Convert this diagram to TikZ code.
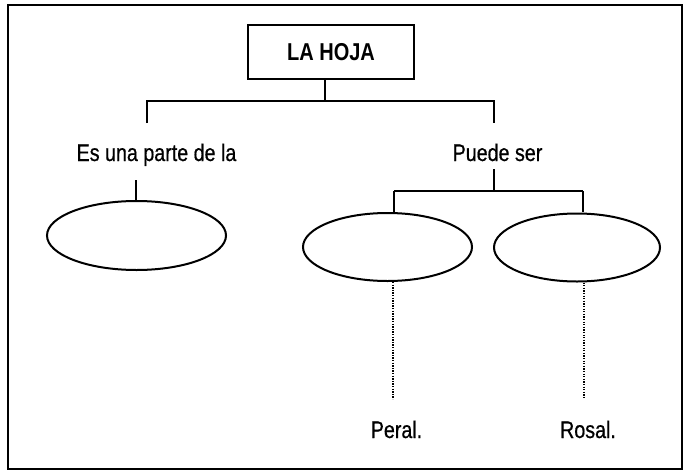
\documentclass[tikz,border=0pt]{standalone}
\usepackage{fontspec}
\setmainfont{Liberation Sans}[FakeStretch=0.82]
\newfontfamily\medfont{Liberation Sans}[FakeStretch=0.82, FakeBold=0.6]
\usetikzlibrary{shapes.geometric}
\tikzset{
  lbl/.style={anchor=base, inner sep=0pt, font=\medfont\fontsize{24}{26}\selectfont},
  oval/.style={draw, ellipse, line width=2pt, inner sep=0pt},
  conn/.style={line width=2pt},
  dots/.style={line width=2pt, dash pattern=on 1.3pt off 1.3pt}
}
\begin{document}
\begin{tikzpicture}[x=1pt,y=-1pt]
\useasboundingbox (0,0) rectangle (684,471);
\draw[line width=2.4pt] (8,5) rectangle (682,469);
% title
\node[draw, line width=2pt, minimum width=166pt, minimum height=54pt, inner sep=0pt,
      font=\bfseries\fontsize{24.4}{26}\selectfont] (title) at (331,52) {LA HOJA};
\coordinate (j1) at (325,101);
\coordinate (a1) at (147,123);
\coordinate (b1) at (494,123);
\draw[conn] (title.south -| j1) -- (j1);
\draw[conn] (a1) -- (a1 |- j1) -- (b1 |- j1) -- (b1);
% labels
\node[lbl] (t1) at (156.5,161) {Es una parte de la};
\node[lbl] (t2) at (497.5,161) {Puede ser};
% left ellipse
\node[oval, minimum width=179pt, minimum height=69pt] (e1) at (136.5,235.5) {};
\coordinate (s1) at (136,180);
\draw[conn] (s1) -- (s1 |- e1.north);
% right part
\node[oval, minimum width=169pt, minimum height=68pt] (e2) at (387.5,247) {};
\node[oval, minimum width=166pt, minimum height=68pt] (e3) at (577,247.5) {};
\coordinate (s2) at (494,169);
\coordinate (j2) at (494,191);
\coordinate (l2) at (394,191);
\coordinate (r2) at (583,191);
\draw[conn] (s2) -- (j2);
\draw[conn] (l2) -- (r2);
\draw[conn] (l2) -- ([yshift=0.5pt]l2 |- e2.north);
\draw[conn] (r2) -- ([yshift=0.5pt]r2 |- e3.north);
% dotted
\coordinate (d1) at (393,399);
\coordinate (d2) at (584,399);
\draw[dots] (d1 |- e2.south) -- (d1);
\draw[dots] (d2 |- e3.south) -- (d2);
\node[lbl] (p1) at (396.5,438) {Peral.};
\node[lbl] (p2) at (588,438) {Rosal.};
\end{tikzpicture}
\end{document}
